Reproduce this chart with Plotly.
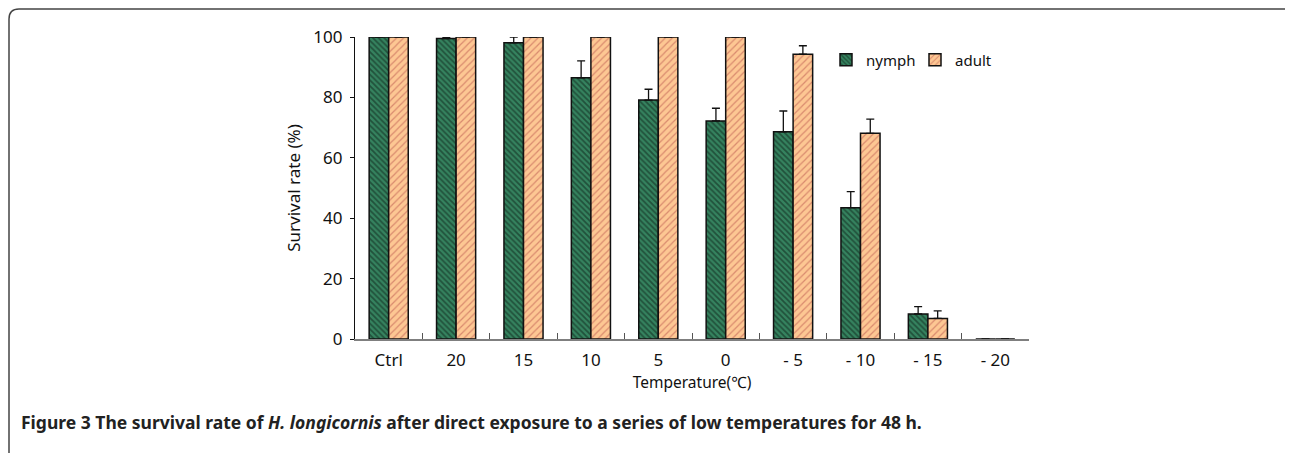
import plotly.graph_objects as go

categories = ["Ctrl", "20", "15", "10", "5", "0", "- 5", "- 10", "- 15", "- 20"]
nymph = [100, 99.5, 98.1, 86.5, 79.1, 72.2, 68.6, 43.5, 8.3, 0]
nymph_err = [0, 0.4, 1.9, 5.6, 3.6, 4.2, 6.9, 5.3, 2.4, 0]
adult = [100, 100, 100, 100, 100, 100, 94.3, 68.1, 6.8, 0]
adult_err = [0, 0, 0, 0, 0, 0, 2.8, 4.7, 2.5, 0]

# the page body has an 8px default margin; work in page pixels and offset
OFF = 8
W, H = 1293 - OFF, 453 - OFF
L, R, T, B = 355 - OFF, 1029 - OFF, 37 - OFF, 339 - OFF
FONT = "Noto Sans"


def px(x):
    return (x - OFF - L) / (R - L)


def py(y):
    return (B - (y - OFF)) / (B - T)


fig = go.Figure()
fig.add_trace(go.Bar(
    name="nymph", x=categories, y=nymph,
    marker=dict(color="#35835f", line=dict(color="#111111", width=1.5),
                pattern=dict(shape="\\", fgcolor="#0d1f17", bgcolor="#35835f",
                             size=4, solidity=0.45)),
    error_y=dict(type="data", array=nymph_err, arrayminus=[0] * len(nymph),
                 symmetric=False, color="#111111", thickness=1.3, width=4),
))
fig.add_trace(go.Bar(
    name="adult", x=categories, y=adult,
    marker=dict(color="#fdc793", line=dict(color="#111111", width=1.5),
                pattern=dict(shape="/", fgcolor="#b5504a", bgcolor="#fdc793",
                             size=5, solidity=0.25)),
    error_y=dict(type="data", array=adult_err, arrayminus=[0] * len(adult),
                 symmetric=False, color="#111111", thickness=1.3, width=4),
))

# rounded frame (page pixel coords)
r = 10
x0, x1, y0, y1 = 9, 1293, 9, 470
path = (f"M {px(x0)},{py(y1)} L {px(x0)},{py(y0 + r)} "
        f"Q {px(x0)},{py(y0)} {px(x0 + r)},{py(y0)} "
        f"L {px(x1 - r)},{py(y0)} Q {px(x1)},{py(y0)} {px(x1)},{py(y0 + r)} "
        f"L {px(x1)},{py(y1)}")
fig.add_shape(type="path", path=path, xref="paper", yref="paper",
              line=dict(color="#444444", width=1.5))

fig.add_annotation(
    xref="paper", yref="paper", x=px(19), y=py(422), xanchor="left", yanchor="middle",
    showarrow=False,
    text="<b>Figure 3 The survival rate of <i>H. longicornis</i> after direct exposure to a series of low temperatures for 48 h.</b>",
    font=dict(family=FONT, size=17.5, color="#222222"),
)

fig.update_layout(
    width=W, height=H,
    margin=dict(l=L, r=W - R, t=T, b=H - B, pad=0),
    paper_bgcolor="white", plot_bgcolor="white",
    barmode="group", bargap=0.42, bargroupgap=0,
    font=dict(family=FONT, size=15, color="#111111"),
    showlegend=True,
    legend=dict(orientation="h", x=px(826), y=py(60), xanchor="left", yanchor="middle",
                font=dict(family=FONT, size=15, color="#111111"),
                bgcolor="rgba(0,0,0,0)", itemwidth=30, traceorder="normal",
                entrywidth=44),
    xaxis=dict(
        type="category", showline=True, linecolor="#7f7f7f", linewidth=2,
        ticks="inside", tickson="boundaries", ticklen=6, tickcolor="#555555",
        tickwidth=1.2, showgrid=False, zeroline=False,
        tickfont=dict(family=FONT, size=17, color="#111111"),
        ticklabelstandoff=5,
        title=dict(text="Temperature(℃)", font=dict(family=FONT, size=15.5, color="#111111"),
                   standoff=5),
    ),
    yaxis=dict(
        range=[0, 100], showline=True, linecolor="#111111", linewidth=1.2,
        ticks="outside", ticklen=4, tickcolor="#111111", tickwidth=1.2,
        tickvals=[0, 20, 40, 60, 80, 100], showgrid=False, zeroline=False,
        tickfont=dict(family=FONT, size=17, color="#111111"),
        ticklabelstandoff=4,
        title=dict(text="Survival rate (%)", font=dict(family=FONT, size=17, color="#111111"),
                   standoff=8),
    ),
)

fig.write_html("out.html")
